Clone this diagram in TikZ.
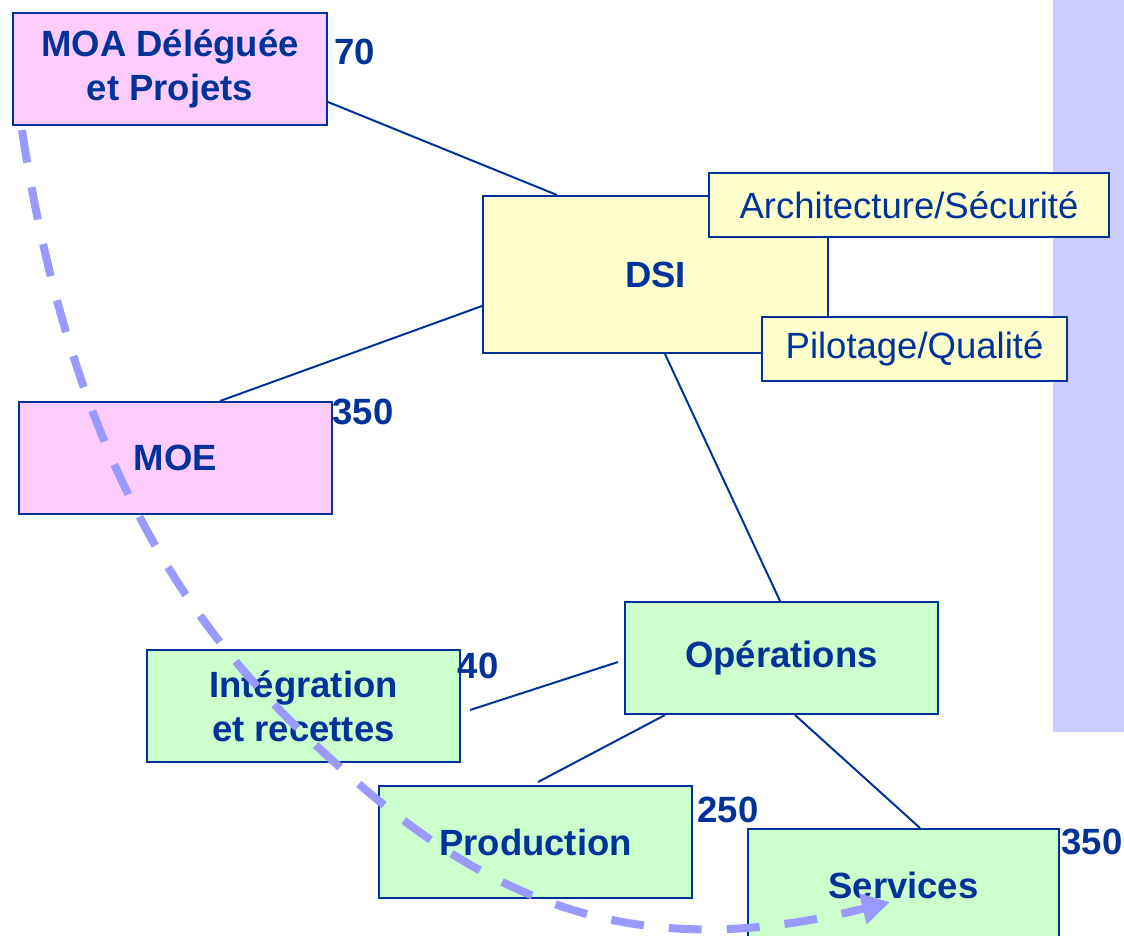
\documentclass[tikz,border=0pt]{standalone}
\usepackage{fontspec}
\setmainfont{Liberation Sans}
\usetikzlibrary{calc,arrows.meta}
\definecolor{navy}{RGB}{0,51,153}
\definecolor{pinkfill}{RGB}{255,204,255}
\definecolor{yellowfill}{RGB}{255,255,204}
\definecolor{greenfill}{RGB}{204,255,204}
\definecolor{barfill}{RGB}{204,204,255}
\definecolor{dashblue}{RGB}{153,153,255}
\begin{document}
\begin{tikzpicture}[x=1pt,y=-1pt,
  box/.style={draw=navy,line width=2pt,anchor=north west,inner sep=0pt,
    text=navy,align=center,font=\fontsize{36.5}{44}\selectfont\bfseries},
  pinkbox/.style={box,fill=pinkfill},
  yellowbox/.style={box,fill=yellowfill},
  greenbox/.style={box,fill=greenfill},
  subbox/.style={box,fill=yellowfill,font=\fontsize{36.5}{44}\selectfont},
  count/.style={text=navy,inner sep=0pt,font=\fontsize{36.5}{44}\selectfont\bfseries},
  link/.style={draw=navy,line width=2pt},
  flow/.style={draw=dashblue,line width=8pt,dash pattern=on 33pt off 25pt,
    -{Triangle[length=28pt,width=30pt]}}]
\clip (0,0) rectangle (1124,935);
\useasboundingbox (0,0) rectangle (1124,935);
% side bar
\fill[barfill] (1053,0) rectangle (1124,732);
% boxes
\node[pinkbox,minimum width=314pt,minimum height=112pt] (moa) at (12,12) {MOA Déléguée\\et Projets};
\node[yellowbox,minimum width=345pt,minimum height=157pt] (dsi) at (482,195) {DSI};
\node[subbox,minimum width=400pt,minimum height=64pt] (archi) at (708,172) {Architecture/Sécurité};
\node[subbox,minimum width=305pt,minimum height=64pt] (pilot) at (761,316) {Pilotage/Qualité};
\node[pinkbox,minimum width=313pt,minimum height=112pt] (moe) at (18,401) {MOE};
\node[greenbox,minimum width=313pt,minimum height=112pt] (ops) at (624,601) {Opérations};
\node[greenbox,minimum width=313pt,minimum height=112pt] (integ) at (146,649) {Intégration\\et recettes};
\node[greenbox,minimum width=313pt,minimum height=112pt] (prod) at (378,785) {Production};
\node[box,fill=greenfill,minimum width=311pt,minimum height=112pt] (serv) at (747,828) {Services};
% connectors
\draw[link] ($(moa.north east)+(0,90)$) -- ($(dsi.north west)+(75,0)$);
\draw[link] ($(dsi.north west)+(0,111)$) -- ($(moe.north west)+(202,0)$);
\draw[link] ($(dsi.south west)+(183,0)$) -- ($(ops.north west)+(156,0)$);
\draw[link] ($(ops.north west)+(-6,61)$) -- ($(integ.north east)+(9,61)$);
\draw[link] ($(ops.south west)+(41,0)$) -- ($(prod.north west)+(160,-3)$);
\draw[link] ($(ops.south west)+(171,0)$) -- ($(serv.north west)+(173,0)$);
% counts
\node[count] (n70) at (355,52) {70};
\node[count] (n350a) at (363,412) {350};
\node[count] (n40) at (478,666) {40};
\node[count] (n250) at (728,810) {250};
\node[count] (n350b) at (1092,842) {350};
% dashed flow
\coordinate (fs) at (22,130);
\coordinate (fm) at (343,770);
\coordinate (fe) at (890,902);
\draw[flow] (fs) .. controls (82,530) and (243,680) .. (fm)
  .. controls (493,905) and (640,964.5) .. (fe);
\end{tikzpicture}
\end{document}
